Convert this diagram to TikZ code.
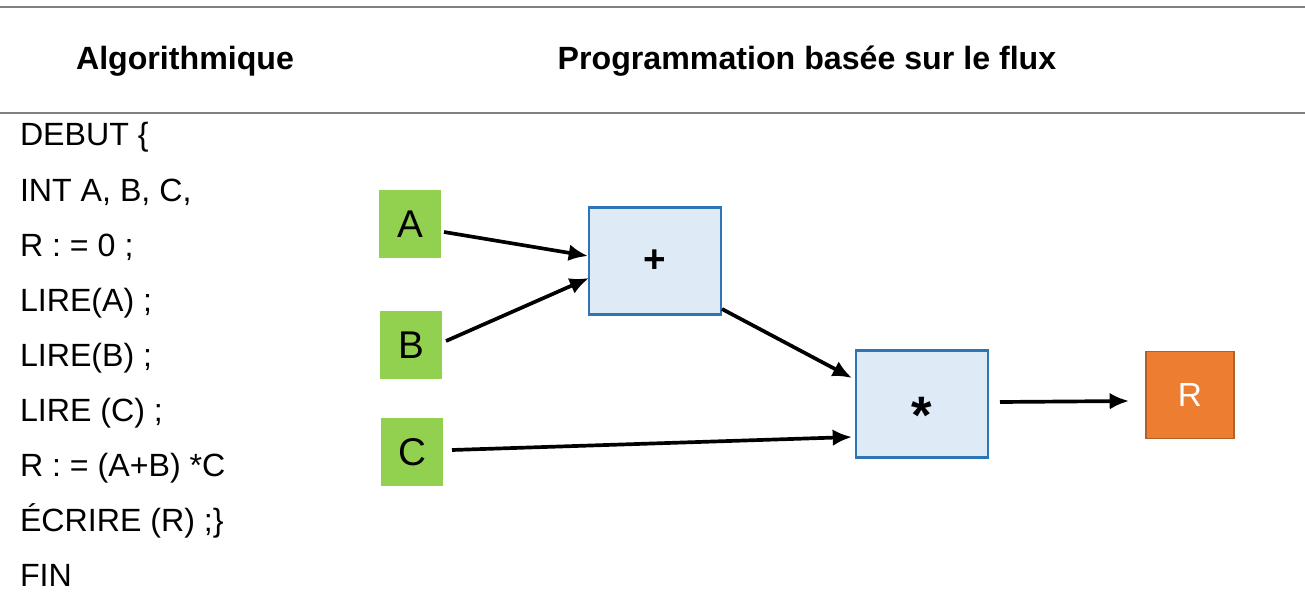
\documentclass[tikz,border=0pt]{standalone}
\usepackage{fontspec}
\setmainfont{Liberation Sans}
\usetikzlibrary{arrows.meta,calc}
\definecolor{vert}{HTML}{92D050}
\definecolor{bleuclair}{HTML}{DEEBF7}
\definecolor{bleu}{HTML}{2E75B6}
\definecolor{orange}{HTML}{ED7D31}
\definecolor{orangefonce}{HTML}{B0622A}
\definecolor{trait}{RGB}{128,128,128}
\begin{document}
\begin{tikzpicture}[x=0.02cm,y=-0.02cm,
  every node/.style={inner sep=0pt, outer sep=0pt},
  entete/.style={font=\fontsize{18.3}{21}\selectfont\bfseries, anchor=base},
  ligne/.style={font=\fontsize{18.3}{21}\selectfont, anchor=base west},
  entree/.style={fill=vert, minimum width=1.24cm, minimum height=1.38cm, font=\fontsize{22}{24}\selectfont},
  operation/.style={draw=bleu, fill=bleuclair, line width=1.5pt, minimum width=2.64cm, minimum height=2.14cm, font=\fontsize{22}{24}\selectfont\bfseries},
  sortie/.style={draw=orangefonce, fill=orange, line width=0.8pt, minimum width=1.76cm, minimum height=1.74cm, text=white, font=\fontsize{19}{22}\selectfont},
  fleche/.style={-{Latex[length=11pt,width=9.5pt]}, line width=2.1pt}]
\useasboundingbox (0,0) rectangle (1305,608);
\draw[trait, line width=1.2pt] (0,7) -- (1305,7);
\draw[trait, line width=1.2pt] (0,113) -- (1305,113);
\node[entete] (titre1) at (185,70) {Algorithmique};
\node[entete] (titre2) at (807,70) {Programmation basée sur le flux};
% pseudo-code
\node[ligne] (l1) at (20,146) {DEBUT \{};
\node[ligne] (l2) at (20,201) {INT A, B, C,};
\node[ligne] (l3) at (20,256) {R : = 0 ;};
\node[ligne] (l4) at (20,311) {LIRE(A) ;};
\node[ligne] (l5) at (20,366) {LIRE(B) ;};
\node[ligne] (l6) at (20,421) {LIRE (C) ;};
\node[ligne] (l7) at (20,476) {R : = (A+B) *C};
\node[ligne] (l8) at (20,531) {ÉCRIRE (R) ;\}};
\node[ligne] (l9) at (20,586) {FIN};
% flux
\node[entree] (a) at (410,224) {A};
\node[entree] (b) at (411,345) {B};
\node[entree] (c) at (412,452) {C};
\node[operation] (plus) at (655,261) {+};
\node[operation, font=\fontsize{30}{30}\selectfont\bfseries] (fois) at (922,404) {\raisebox{-17pt}[0pt][0pt]{*}};
\node[sortie] (r) at (1190,395) {R};
\draw[fleche] ($(a.east)+(3,8)$) -- ($(plus.west)+(-1,-5)$);
\draw[fleche] ($(b.east)+(4,-4)$) -- ($(plus.west)+(0,17)$);
\draw[fleche] ($(plus.east)+(1,48)$) -- ($(fois.west)+(-4,-26)$);
\draw[fleche] ($(c.east)+(9,-2)$) -- ($(fois.west)+(-4,33)$);
\draw[fleche] ($(fois.east)+(12,-2)$) -- ($(r.west)+(-17,6)$);
\end{tikzpicture}
\end{document}
